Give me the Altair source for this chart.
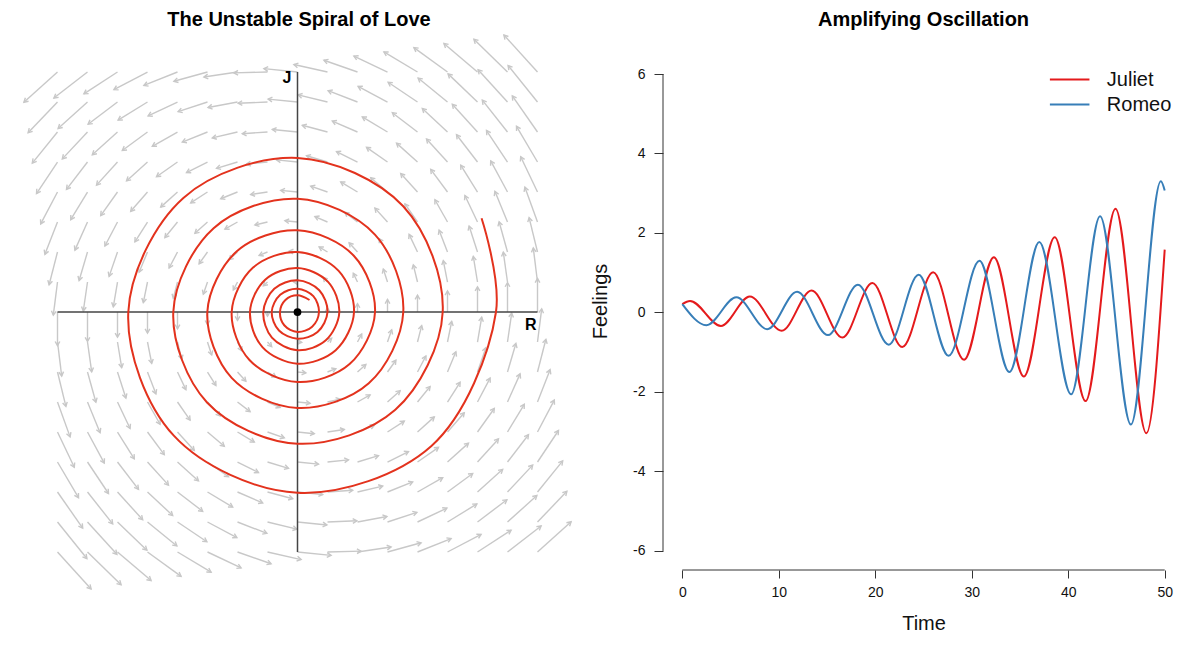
import math
import altair as alt
import pandas as pd

# ---------------- data ----------------
SERIES = ["Juliet", "Romeo"]

# Amplifying oscillation: turning points (time, feelings)
JULIET_T = [0, 0.8, 4.0, 7.0, 10.3, 13.4, 16.6, 19.7, 22.8, 26.0, 29.2, 32.3, 35.4, 38.6, 41.8, 44.9, 48.1, 50]
JULIET_V = [0.21, 0.29, -0.34, 0.40, -0.46, 0.55, -0.63, 0.74, -0.87, 1.01, -1.19, 1.39, -1.61, 1.89, -2.23, 2.61, -3.04, 1.58]
ROMEO_T = [0, 2.5, 5.6, 8.8, 11.9, 15.1, 18.2, 21.4, 24.5, 27.6, 30.8, 33.9, 37.0, 40.3, 43.3, 46.5, 49.6, 50]
ROMEO_V = [0.21, -0.32, 0.38, -0.42, 0.52, -0.57, 0.70, -0.81, 0.95, -1.09, 1.30, -1.50, 1.77, -2.06, 2.42, -2.82, 3.30, 3.07]

X_TICKS = [0, 10, 20, 30, 40, 50]
Y_TICKS = [-6, -4, -2, 0, 2, 4, 6]

# Spiral of love: radius read at every 45 degrees of turning (R horizontal, J vertical)
SPIRAL_ANGLE_DEG = list(range(45, 2881, 45)) + [2907]
SPIRAL_RADIUS = [
    0.283, 0.278, 0.285, 0.292, 0.312, 0.333, 0.345, 0.358,
    0.373, 0.388, 0.408, 0.430, 0.437, 0.445, 0.472, 0.500,
    0.513, 0.528, 0.548, 0.570, 0.603, 0.638, 0.667, 0.697,
    0.715, 0.733, 0.762, 0.792, 0.827, 0.862, 0.900, 0.942,
    0.970, 1.000, 1.047, 1.097, 1.132, 1.167, 1.228, 1.292,
    1.327, 1.362, 1.430, 1.503, 1.552, 1.600, 1.680, 1.763,
    1.825, 1.888, 1.977, 2.070, 2.132, 2.195, 2.305, 2.420,
    2.492, 2.567, 2.690, 2.820, 2.915, 3.012, 3.157, 3.308,
    3.443,
]

# Direction field grid and the linear love model it shows
FIELD_GRID = [-4, -3.5, -3, -2.5, -2, -1.5, -1, -0.5, 0, 0.5, 1, 1.5, 2, 2.5, 3, 3.5, 4]
DR_PER_J = -1.0   # dR/dt = -1.0 * J
DJ_PER_R = 1.0    # dJ/dt =  1.0 * R + 0.1 * J
DJ_PER_J = 0.1
ARROW_TIME = 0.14
AXIS_EXTENT = 4

# ---------------- styles ----------------
FONT = "Liberation Sans"
RED = "#e41a1c"
BLUE = "#377eb8"
SPIRAL_RED = "#e3321d"
ARROW_GREY = "#c8c8c8"
AXIS_DARK = "#333333"
CHEVRON = "M-0.87,-0.5L0,0L-0.87,0.5"
PLOT_H = 538

# ---------------- tables ----------------
ts_df = pd.concat([
    pd.DataFrame({"t": JULIET_T, "v": JULIET_V, "who": "Juliet"}),
    pd.DataFrame({"t": ROMEO_T, "v": ROMEO_V, "who": "Romeo"}),
], ignore_index=True)

spiral_df = pd.DataFrame({
    "k": range(len(SPIRAL_RADIUS)),
    "R": [r * math.cos(math.radians(a)) for r, a in zip(SPIRAL_RADIUS, SPIRAL_ANGLE_DEG)],
    "J": [r * math.sin(math.radians(a)) for r, a in zip(SPIRAL_RADIUS, SPIRAL_ANGLE_DEG)],
})

rows = []
for r0 in FIELD_GRID:
    for j0 in FIELD_GRID:
        dr = ARROW_TIME * (DR_PER_J * j0)
        dj = ARROW_TIME * (DJ_PER_R * r0 + DJ_PER_J * j0)
        if abs(dr) + abs(dj) < 1e-9:
            continue
        ang = math.degrees(math.atan2(-dj, dr)) % 360
        rows.append({"R0": r0, "J0": j0, "R1": r0 + dr, "J1": j0 + dj, "ang": ang})
arrows_df = pd.DataFrame(rows)

cross_df = pd.DataFrame({
    "x1": [-AXIS_EXTENT, 0], "x2": [AXIS_EXTENT, 0],
    "y1": [0, -AXIS_EXTENT], "y2": [0, AXIS_EXTENT],
})
origin_df = pd.DataFrame({"R": [0], "J": [0]})
label_df = pd.DataFrame({"R": [0, AXIS_EXTENT], "J": [AXIS_EXTENT, 0], "lab": ["J", "R"]})

# ---------------- left panel ----------------
xs = alt.Scale(domain=[-4.825, 4.875], nice=False, zero=False)
ys = alt.Scale(domain=[-4.3, 4.667], nice=False, zero=False)

shafts = alt.Chart(arrows_df).mark_rule(color=ARROW_GREY, strokeWidth=1.4).encode(
    x=alt.X("R0:Q", scale=xs, axis=None), x2="R1:Q",
    y=alt.Y("J0:Q", scale=ys, axis=None), y2="J1:Q",
)
heads = alt.Chart(arrows_df).mark_point(
    shape=CHEVRON, filled=False, size=90, color=ARROW_GREY, strokeWidth=1.4, opacity=1
).encode(
    x=alt.X("R1:Q", scale=xs, axis=None),
    y=alt.Y("J1:Q", scale=ys, axis=None),
    angle=alt.Angle("ang:Q", scale=None),
)
cross = alt.Chart(cross_df).mark_rule(color="#444444", strokeWidth=1.5).encode(
    x=alt.X("x1:Q", scale=xs, axis=None), x2="x2:Q",
    y=alt.Y("y1:Q", scale=ys, axis=None), y2="y2:Q",
)
spiral = alt.Chart(spiral_df).mark_line(
    color=SPIRAL_RED, strokeWidth=2, interpolate="catmull-rom"
).encode(
    x=alt.X("R:Q", scale=xs, axis=None),
    y=alt.Y("J:Q", scale=ys, axis=None),
    order="k:Q",
)
dot = alt.Chart(origin_df).mark_point(filled=True, color="black", size=60, opacity=1).encode(
    x=alt.X("R:Q", scale=xs, axis=None), y=alt.Y("J:Q", scale=ys, axis=None),
)
jlab = alt.Chart(label_df).transform_filter("datum.lab == 'J'").mark_text(
    fontSize=16, fontWeight="bold", align="right", baseline="middle", dx=-6, dy=6, color="black"
).encode(x=alt.X("R:Q", scale=xs, axis=None), y=alt.Y("J:Q", scale=ys, axis=None), text="lab:N")
rlab = alt.Chart(label_df).transform_filter("datum.lab == 'R'").mark_text(
    fontSize=16, fontWeight="bold", align="right", baseline="middle", dx=-1, dy=13, color="black"
).encode(x=alt.X("R:Q", scale=xs, axis=None), y=alt.Y("J:Q", scale=ys, axis=None), text="lab:N")

left = alt.layer(shafts, heads, cross, spiral, dot, jlab, rlab).properties(
    width=582, height=PLOT_H,
    title=alt.TitleParams("The Unstable Spiral of Love", fontSize=20, fontWeight="bold",
                          anchor="middle", offset=2, color="black", frame="group"),
)

# ---------------- right panel ----------------
xr = alt.Scale(domain=[-2, 52], nice=False, zero=False)
yr = alt.Scale(domain=[-6.48, 7.057], nice=False, zero=False)
color_scale = alt.Scale(domain=SERIES, range=[RED, BLUE])

x_axis = alt.Axis(values=X_TICKS, domain=False, grid=False, tickSize=8, tickColor=AXIS_DARK,
                  labelFontSize=14, labelColor="#111111", labelPadding=7, labelExpr="datum.value + ''",
                  titleFontSize=20, titleFontWeight="normal", titleColor="#111111", titlePadding=14)
y_axis = alt.Axis(values=Y_TICKS, domain=False, grid=False, tickSize=9, tickColor=AXIS_DARK,
                  labelFontSize=14, labelColor="#111111", labelPadding=9, labelAngle=0,
                  labelExpr="datum.value + ''",
                  titleFontSize=20, titleFontWeight="normal", titleColor="#111111", titlePadding=22)


def rx(field):
    return alt.X(field, scale=xr, axis=x_axis, title="Time")


def ry(field):
    return alt.Y(field, scale=yr, axis=y_axis, title="Feelings")


lines = alt.Chart(ts_df).mark_line(strokeWidth=2, interpolate="monotone").encode(
    x=rx("t:Q"), y=ry("v:Q"),
    color=alt.Color("who:N", scale=color_scale, legend=None),
)

yline_df = pd.DataFrame({"x": [xr.domain[0]], "y1": [min(Y_TICKS)], "y2": [max(Y_TICKS)]})
xline_df = pd.DataFrame({"y": [yr.domain[0]], "x1": [min(X_TICKS)], "x2": [max(X_TICKS)]})
yline = alt.Chart(yline_df).mark_rule(color=AXIS_DARK, strokeWidth=1).encode(
    x=rx("x:Q"), y=ry("y1:Q"), y2="y2:Q")
xline = alt.Chart(xline_df).mark_rule(color=AXIS_DARK, strokeWidth=1).encode(
    x=rx("x1:Q"), x2="x2:Q", y=ry("y:Q"))

# hand-drawn legend (top right), placed in data units of the panel
LEG_X0, LEG_X1, LEG_TX = 38.1, 42.2, 44.0
LEG_Y0, LEG_DY = 5.86, 0.63
legend_df = pd.DataFrame({"who": SERIES, "row": list(range(len(SERIES)))})
leg_base = alt.Chart(legend_df).transform_calculate(
    ly=f"{LEG_Y0} - {LEG_DY} * datum.row", lx0=f"{LEG_X0}", lx1=f"{LEG_X1}", tx=f"{LEG_TX}")
leg_lines = leg_base.mark_rule(strokeWidth=2).encode(
    x=rx("lx0:Q"), x2="lx1:Q", y=ry("ly:Q"),
    color=alt.Color("who:N", scale=color_scale, legend=None))
leg_text = leg_base.mark_text(align="left", baseline="middle", fontSize=20, color="#111111").encode(
    x=rx("tx:Q"), y=ry("ly:Q"), text="who:N")

right = alt.layer(lines, yline, xline, leg_lines, leg_text).properties(
    width=521, height=PLOT_H,
    title=alt.TitleParams("Amplifying Oscillation", fontSize=20, fontWeight="bold",
                          anchor="middle", offset=2, color="black", frame="group"),
)

chart = alt.hconcat(
    left, right, spacing=0, padding={"top": 2, "left": 0, "right": 0, "bottom": 0}
).configure(font=FONT).configure_view(strokeWidth=0)

chart.save("out.html", embed_options={"renderer": "svg", "actions": False})
